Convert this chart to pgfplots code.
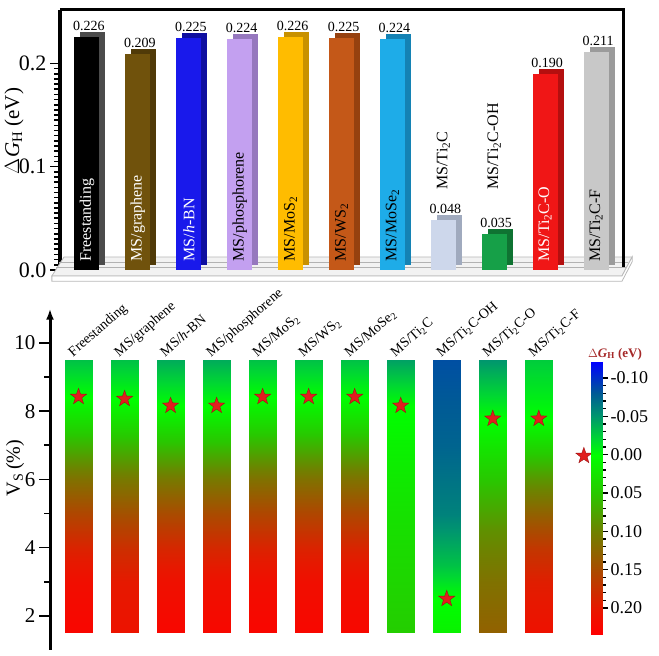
\documentclass[border=0pt]{standalone}
\usepackage{fontspec}
\setmainfont{Liberation Serif}
\usepackage{pgfplots}
\pgfplotsset{compat=1.18}
\usepackage{pgfplotstable}
\usetikzlibrary{arrows.meta}

\definecolor{cFree}{RGB}{0,0,0}      \definecolor{sFree}{RGB}{75,75,75}
\definecolor{cGra}{RGB}{112,82,12}   \definecolor{sGra}{RGB}{80,58,8}
\definecolor{cBN}{RGB}{25,25,235}    \definecolor{sBN}{RGB}{15,15,160}
\definecolor{cPho}{RGB}{195,160,240} \definecolor{sPho}{RGB}{150,120,190}
\definecolor{cMoS}{RGB}{255,188,0}   \definecolor{sMoS}{RGB}{200,145,0}
\definecolor{cWS}{RGB}{196,88,24}    \definecolor{sWS}{RGB}{150,65,15}
\definecolor{cMoSe}{RGB}{30,172,232} \definecolor{sMoSe}{RGB}{20,130,180}
\definecolor{cTiC}{RGB}{205,215,235} \definecolor{sTiC}{RGB}{160,170,190}
\definecolor{cOH}{RGB}{22,160,72}    \definecolor{sOH}{RGB}{15,115,50}
\definecolor{cO}{RGB}{240,22,22}     \definecolor{sO}{RGB}{180,15,15}
\definecolor{cF}{RGB}{200,200,200}   \definecolor{sF}{RGB}{155,155,155}
\definecolor{starred}{RGB}{225,30,30}
\definecolor{cbtitle}{RGB}{165,40,40}

\pgfplotsset{colormap={dg}{rgb255(0pt)=(0,0,255); rgb255(41pt)=(0,90,150); rgb255(71pt)=(0,150,110); rgb255(101pt)=(0,215,50); rgb255(121pt)=(0,255,0); rgb255(171pt)=(40,200,0); rgb255(221pt)=(110,130,0); rgb255(271pt)=(170,75,0); rgb255(321pt)=(230,25,0); rgb255(355pt)=(255,0,0)}}

\pgfdeclareplotmark{fstar}{%
  \pgfpathmoveto{\pgfpointpolar{90}{\pgfplotmarksize}}%
  \pgfpathlineto{\pgfpointpolar{126}{0.4\pgfplotmarksize}}%
  \pgfpathlineto{\pgfpointpolar{162}{\pgfplotmarksize}}%
  \pgfpathlineto{\pgfpointpolar{198}{0.4\pgfplotmarksize}}%
  \pgfpathlineto{\pgfpointpolar{234}{\pgfplotmarksize}}%
  \pgfpathlineto{\pgfpointpolar{270}{0.4\pgfplotmarksize}}%
  \pgfpathlineto{\pgfpointpolar{306}{\pgfplotmarksize}}%
  \pgfpathlineto{\pgfpointpolar{342}{0.4\pgfplotmarksize}}%
  \pgfpathlineto{\pgfpointpolar{18}{\pgfplotmarksize}}%
  \pgfpathlineto{\pgfpointpolar{54}{0.4\pgfplotmarksize}}%
  \pgfpathclose\pgfusepathqfillstroke}

\newcommand\lbl{\fontsize{16}{16}\selectfont}
\newcommand\clbl{\fontsize{14}{14}\selectfont}

% #1 x, #2 value, #3 front colour, #4 side colour, #5 label colour, #6 label, #7 label y
\newcommand\tdbar[7]{%
  \addplot[ybar, bar width=25pt, bar shift=0pt, draw=none, fill=#4, xshift=6pt, yshift=5pt] coordinates {(#1,#2)};
  \addplot[ybar, bar width=25pt, bar shift=0pt, draw=none, fill=#3, point meta=explicit symbolic,
    nodes near coords, nodes near coords style={font=\fontsize{14}{14}\selectfont, anchor=south, inner sep=0pt, yshift=6pt, xshift=2pt, text=black}] coordinates {(#1,#2) [#2]};
  \node[rotate=90, anchor=west, text=#5, font=\lbl, inner sep=0pt] at (axis cs:#1,#7) {#6};
}

% columns of the lower panel: s = side (-1 left, 1 right), v = Vs (%), g = Delta G_H (eV)
\pgfplotstableread{
s v g
-1 1.5 0.226
1 1.5 0.226
-1 3 0.215
1 3 0.215
-1 4 0.19
1 4 0.19
-1 5 0.155
1 5 0.155
-1 6 0.115
1 6 0.115
-1 7 0.065
1 7 0.065
-1 7.5 0.04
1 7.5 0.04
-1 8.42 0
1 8.42 0
-1 9.5 -0.03
1 9.5 -0.03
}\tA
\pgfplotstableread{
s v g
-1 1.5 0.209
1 1.5 0.209
-1 3 0.2
1 3 0.2
-1 4 0.178
1 4 0.178
-1 5 0.145
1 5 0.145
-1 6 0.108
1 6 0.108
-1 7 0.062
1 7 0.062
-1 7.5 0.038
1 7.5 0.038
-1 8.36 0
1 8.36 0
-1 9.5 -0.03
1 9.5 -0.03
}\tB
\pgfplotstableread{
s v g
-1 1.5 0.225
1 1.5 0.225
-1 3 0.212
1 3 0.212
-1 4 0.186
1 4 0.186
-1 5 0.15
1 5 0.15
-1 6 0.108
1 6 0.108
-1 7 0.056
1 7 0.056
-1 7.5 0.032
1 7.5 0.032
-1 8.16 0
1 8.16 0
-1 9.5 -0.04
1 9.5 -0.04
}\tC
\pgfplotstableread{
s v g
-1 1.5 0.224
1 1.5 0.224
-1 3 0.211
1 3 0.211
-1 4 0.185
1 4 0.185
-1 5 0.15
1 5 0.15
-1 6 0.108
1 6 0.108
-1 7 0.056
1 7 0.056
-1 7.5 0.032
1 7.5 0.032
-1 8.16 0
1 8.16 0
-1 9.5 -0.04
1 9.5 -0.04
}\tD
\pgfplotstableread{
s v g
-1 1.5 0.226
1 1.5 0.226
-1 3 0.215
1 3 0.215
-1 4 0.19
1 4 0.19
-1 5 0.155
1 5 0.155
-1 6 0.115
1 6 0.115
-1 7 0.065
1 7 0.065
-1 7.5 0.04
1 7.5 0.04
-1 8.42 0
1 8.42 0
-1 9.5 -0.03
1 9.5 -0.03
}\tE
\pgfplotstableread{
s v g
-1 1.5 0.225
1 1.5 0.225
-1 3 0.214
1 3 0.214
-1 4 0.19
1 4 0.19
-1 5 0.155
1 5 0.155
-1 6 0.115
1 6 0.115
-1 7 0.065
1 7 0.065
-1 7.5 0.04
1 7.5 0.04
-1 8.42 0
1 8.42 0
-1 9.5 -0.03
1 9.5 -0.03
}\tF
\pgfplotstableread{
s v g
-1 1.5 0.224
1 1.5 0.224
-1 3 0.213
1 3 0.213
-1 4 0.189
1 4 0.189
-1 5 0.154
1 5 0.154
-1 6 0.114
1 6 0.114
-1 7 0.065
1 7 0.065
-1 7.5 0.04
1 7.5 0.04
-1 8.42 0
1 8.42 0
-1 9.5 -0.03
1 9.5 -0.03
}\tG
\pgfplotstableread{
s v g
-1 1.5 0.045
1 1.5 0.045
-1 4 0.033
1 4 0.033
-1 6 0.02
1 6 0.02
-1 7 0.012
1 7 0.012
-1 8.16 0
1 8.16 0
-1 9.5 -0.045
1 9.5 -0.045
}\tH
\pgfplotstableread{
s v g
-1 1.5 0.012
1 1.5 0.012
-1 2.5 0
1 2.5 0
-1 3.5 -0.03
1 3.5 -0.03
-1 5 -0.06
1 5 -0.06
-1 7 -0.075
1 7 -0.075
-1 9.5 -0.085
1 9.5 -0.085
}\tI
\pgfplotstableread{
s v g
-1 1.5 0.13
1 1.5 0.13
-1 3 0.115
1 3 0.115
-1 4.5 0.09
1 4.5 0.09
-1 6 0.05
1 6 0.05
-1 7 0.022
1 7 0.022
-1 7.78 0
1 7.78 0
-1 9.5 -0.05
1 9.5 -0.05
}\tJ
\pgfplotstableread{
s v g
-1 1.5 0.211
1 1.5 0.211
-1 3 0.195
1 3 0.195
-1 4 0.17
1 4 0.17
-1 5 0.13
1 5 0.13
-1 6 0.085
1 6 0.085
-1 7 0.035
1 7 0.035
-1 7.78 0
1 7.78 0
-1 9.5 -0.025
1 9.5 -0.025
}\tK
% colour scale (DeltaG_H values along the bar)
\pgfplotstableread{
s g
0 -0.121
1 -0.121
0 -0.08
1 -0.08
0 -0.05
1 -0.05
0 -0.02
1 -0.02
0 0
1 0
0 0.05
1 0.05
0 0.1
1 0.1
0 0.15
1 0.15
0 0.2
1 0.2
0 0.234
1 0.234
}\tScale

\begin{document}
\begin{tikzpicture}
\useasboundingbox (0,0) rectangle (659pt,656pt);

% ---------------- upper panel ----------------
\begin{axis}[
  at={(60pt,384pt)}, anchor=south west,
  scale only axis, width=563pt, height=262.3pt,
  xmin=-0.53, xmax=10.53, ymin=-0.002, ymax=0.252,
  clip=false,
  axis x line=none, axis y line*=left,
  y axis line style={line width=3.5pt},
  ytick={0,0.1,0.2}, minor y tick num=19,
  tick align=outside, major tick length=10pt, minor tick length=6pt,
  every tick/.style={black, line width=1.6pt},
  yticklabel style={font=\fontsize{22}{22}\selectfont, /pgf/number format/.cd, fixed, fixed zerofill, precision=1, assume math mode=true},
]
% floor
\fill[gray!10, draw=gray!55, line width=0.8pt] (axis cs:-0.45,0.0126) -- (axis cs:10.71,0.0126) -- (axis cs:10.51,-0.0058) -- (axis cs:-0.69,-0.0058) -- cycle;
\fill[white, draw=gray!55, line width=0.8pt] (axis cs:-0.69,-0.0058) -- (axis cs:10.51,-0.0058) -- (axis cs:10.71,0.0126) -- (axis cs:10.71,0.008) -- (axis cs:10.51,-0.011) -- (axis cs:-0.69,-0.011) -- cycle;
\draw[gray!60, line width=1pt] (axis cs:-0.55,0.0068) -- (axis cs:10.62,0.0068);
\draw[gray!60, line width=1pt] (axis cs:-0.6,0.002) -- (axis cs:10.58,0.002);

\tdbar{0}{0.226}{cFree}{sFree}{white}{Freestanding}{0.008}
\tdbar{1}{0.209}{cGra}{sGra}{white}{MS/graphene}{0.008}
\tdbar{2}{0.225}{cBN}{sBN}{white}{MS/\textit{h}-BN}{0.008}
\tdbar{3}{0.224}{cPho}{sPho}{black}{MS/phosphorene}{0.008}
\tdbar{4}{0.226}{cMoS}{sMoS}{black}{MS/MoS\textsubscript{2}}{0.008}
\tdbar{5}{0.225}{cWS}{sWS}{black}{MS/WS\textsubscript{2}}{0.008}
\tdbar{6}{0.224}{cMoSe}{sMoSe}{black}{MS/MoSe\textsubscript{2}}{0.008}
\tdbar{7}{0.048}{cTiC}{sTiC}{black}{MS/Ti\textsubscript{2}C}{0.0775}
\tdbar{8}{0.035}{cOH}{sOH}{black}{MS/Ti\textsubscript{2}C-OH}{0.0775}
\tdbar{9}{0.190}{cO}{sO}{white}{MS/Ti\textsubscript{2}C-O}{0.008}
\tdbar{10}{0.211}{cF}{sF}{black}{MS/Ti\textsubscript{2}C-F}{0.008}

\draw[line width=3pt] (rel axis cs:0,1) -- (rel axis cs:1,1) -- (axis cs:10.53,0.003);
\end{axis}
\node[rotate=90, font=\fontsize{21}{21}\selectfont] at (14pt,525pt) {$\Delta$\textit{G}\textsubscript{H} (eV)};

% ---------------- lower panel ----------------
\begin{axis}[
  at={(50pt,6pt)}, anchor=south west,
  scale only axis, width=548.6pt, height=341.25pt,
  xmin=-0.62, xmax=11.3, ymin=1, ymax=11,
  clip=false,
  axis x line=none, axis y line=left,
  y axis line style={line width=3pt, -{Latex[length=11pt,width=8pt]}},
  ytick={2,4,6,8,10}, minor ytick={3,5,7,9},
  tick align=outside, major tick length=11pt, minor tick length=6pt,
  every tick/.style={black, line width=1.6pt},
  yticklabel style={font=\fontsize{21}{21}\selectfont, /pgf/number format/assume math mode=true},
  colormap name=dg, point meta min=-0.121, point meta max=0.234,
]
\addplot[surf, shader=interp, mesh/cols=2, point meta=explicit] table[x expr={\thisrow{s}*0.293+0}, y=v, meta=g] {\tA};
\addplot[surf, shader=interp, mesh/cols=2, point meta=explicit] table[x expr={\thisrow{s}*0.293+1}, y=v, meta=g] {\tB};
\addplot[surf, shader=interp, mesh/cols=2, point meta=explicit] table[x expr={\thisrow{s}*0.293+2}, y=v, meta=g] {\tC};
\addplot[surf, shader=interp, mesh/cols=2, point meta=explicit] table[x expr={\thisrow{s}*0.293+3}, y=v, meta=g] {\tD};
\addplot[surf, shader=interp, mesh/cols=2, point meta=explicit] table[x expr={\thisrow{s}*0.293+4}, y=v, meta=g] {\tE};
\addplot[surf, shader=interp, mesh/cols=2, point meta=explicit] table[x expr={\thisrow{s}*0.293+5}, y=v, meta=g] {\tF};
\addplot[surf, shader=interp, mesh/cols=2, point meta=explicit] table[x expr={\thisrow{s}*0.293+6}, y=v, meta=g] {\tG};
\addplot[surf, shader=interp, mesh/cols=2, point meta=explicit] table[x expr={\thisrow{s}*0.293+7}, y=v, meta=g] {\tH};
\addplot[surf, shader=interp, mesh/cols=2, point meta=explicit] table[x expr={\thisrow{s}*0.293+8}, y=v, meta=g] {\tI};
\addplot[surf, shader=interp, mesh/cols=2, point meta=explicit] table[x expr={\thisrow{s}*0.293+9}, y=v, meta=g] {\tJ};
\addplot[surf, shader=interp, mesh/cols=2, point meta=explicit] table[x expr={\thisrow{s}*0.293+10}, y=v, meta=g] {\tK};

\addplot[only marks, mark=fstar, mark size=8.5pt, mark options={fill=starred, draw=starred!70!black, line width=0.4pt}, point meta=none] coordinates {
(0,8.42) (1,8.36) (2,8.16) (3,8.16) (4,8.42) (5,8.42) (6,8.42) (7,8.16) (8,2.5) (9,7.78) (10,7.78) (10.98,6.69)};

\node[rotate=41, anchor=base west, font=\clbl, inner sep=0pt] at (axis cs:-0.12,9.58) {Freestanding};
\node[rotate=41, anchor=base west, font=\clbl, inner sep=0pt] at (axis cs:0.88,9.58) {MS/graphene};
\node[rotate=41, anchor=base west, font=\clbl, inner sep=0pt] at (axis cs:1.88,9.58) {MS/\textit{h}-BN};
\node[rotate=41, anchor=base west, font=\clbl, inner sep=0pt] at (axis cs:2.88,9.58) {MS/phosphorene};
\node[rotate=41, anchor=base west, font=\clbl, inner sep=0pt] at (axis cs:3.88,9.58) {MS/MoS\textsubscript{2}};
\node[rotate=41, anchor=base west, font=\clbl, inner sep=0pt] at (axis cs:4.88,9.58) {MS/WS\textsubscript{2}};
\node[rotate=41, anchor=base west, font=\clbl, inner sep=0pt] at (axis cs:5.88,9.58) {MS/MoSe\textsubscript{2}};
\node[rotate=41, anchor=base west, font=\clbl, inner sep=0pt] at (axis cs:6.88,9.58) {MS/Ti\textsubscript{2}C};
\node[rotate=41, anchor=base west, font=\clbl, inner sep=0pt] at (axis cs:7.88,9.58) {MS/Ti\textsubscript{2}C-OH};
\node[rotate=41, anchor=base west, font=\clbl, inner sep=0pt] at (axis cs:8.88,9.58) {MS/Ti\textsubscript{2}C-O};
\node[rotate=41, anchor=base west, font=\clbl, inner sep=0pt] at (axis cs:9.88,9.58) {MS/Ti\textsubscript{2}C-F};
\end{axis}

% ---------------- colour scale ----------------
\begin{axis}[
  at={(591pt,22pt)}, anchor=south west,
  scale only axis, width=11pt, height=272pt,
  xmin=0, xmax=1, ymin=-0.121, ymax=0.234, y dir=reverse,
  axis x line=none, axis y line*=right,
  y axis line style={line width=1.6pt},
  ytick={-0.1,-0.05,0,0.05,0.1,0.15,0.2}, minor y tick num=4,
  tick align=outside, major tick length=6pt, minor tick length=3.5pt,
  every tick/.style={black, line width=1.2pt},
  yticklabel style={font=\fontsize{18}{18}\selectfont, xshift=-1pt, /pgf/number format/.cd, fixed, fixed zerofill, precision=2, assume math mode=true},
  colormap name=dg, point meta min=-0.121, point meta max=0.234,
]
\addplot[surf, shader=interp, mesh/cols=2, point meta=explicit] table[x=s, y=g, meta=g] {\tScale};
\end{axis}

\node[rotate=90, font=\fontsize{20}{20}\selectfont] at (15pt,188pt) {V\textsubscript{S}\,(\%)};
\node[font=\bfseries\fontsize{13}{13}\selectfont, text=cbtitle] at (615pt,302pt) {$\Delta$\textit{G}\textsubscript{H} (eV)};
\end{tikzpicture}
\end{document}
